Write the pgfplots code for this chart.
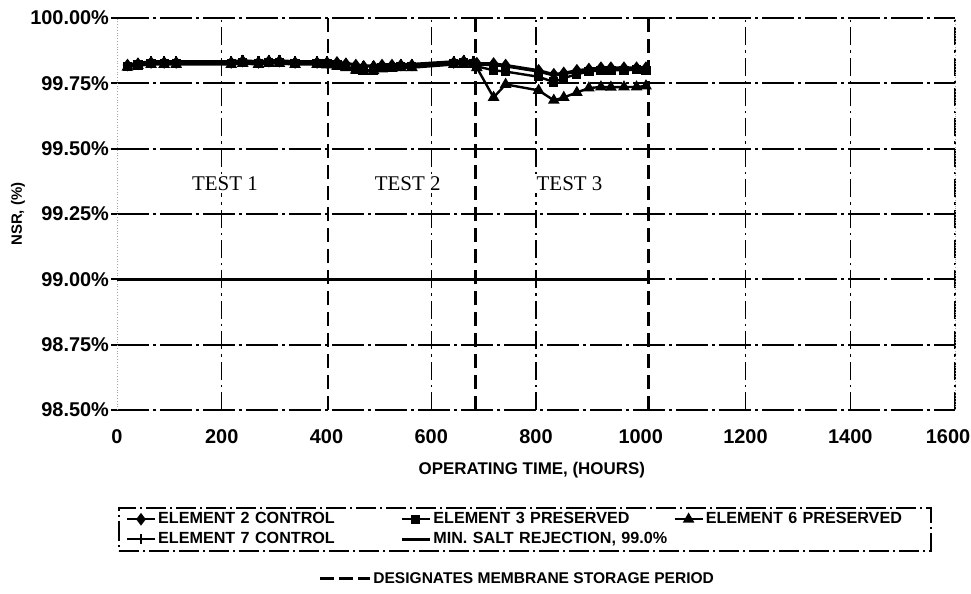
\documentclass[border=0pt]{standalone}
\usepackage{pgfplots}
\pgfplotsset{compat=1.18}
\usepackage{fontspec}
\setmainfont{Liberation Sans}
\newfontfamily\serifft{Liberation Serif}

\begin{document}
\begin{tikzpicture}
\path[use as bounding box] (-58.5bp,-92bp) rectangle (427bp,205bp);
\begin{axis}[
  at={(0,0)}, anchor=south west,
  scale only axis, width=419bp, height=196bp,
  clip=false,
  xmin=0, xmax=1600, ymin=98.5, ymax=100,
  xtick={200,600,800,1200,1400,1600},
  xticklabels={200,600,800,1200,1400,\hspace*{-7bp}1600},
  extra x ticks={0,400,1000},
  extra x tick labels={0,400,1000},
  extra x tick style={grid=none},
  ytick={98.5,98.75,99,99.25,99.5,99.75,100},
  yticklabels={98.50\%,98.75\%,99.00\%,99.25\%,99.50\%,99.75\%,100.00\%},
  xtick style={draw=none},
  ytick pos=left, tick align=outside, major tick length=3bp,
  ytick style={black, line width=0.9bp},
  xmajorgrids, ymajorgrids,
  x grid style={black, line width=0.7bp, dash pattern=on 9bp off 2.5bp on 1.2bp off 2.5bp},
  y grid style={black, line width=0.9bp, dash pattern=on 16bp off 2bp on 1.5bp off 2bp},
  separate axis lines,
  x axis line style={draw=none},
  y axis line style={densely dotted, gray!70},
  tick label style={font=\fontsize{10}{11}\selectfont\bfseries},
  yticklabel style={xshift=2.5bp},
  xticklabel style={yshift=-3.5bp},
  xlabel={OPERATING TIME, (HOURS)},
  xlabel style={at={(axis description cs:0.495,-0.153)}, anchor=center, font=\fontsize{8.5}{10}\selectfont\bfseries},
  ylabel={NSR, (\%)},
  ylabel style={at={(axis description cs:-0.118,0.5)}, anchor=center, rotate=0, font=\fontsize{7.5}{9}\selectfont\bfseries},
  legend style={at={(axis description cs:0.0012,-0.2474)}, anchor=north west,
    draw=black, line width=0.8bp, dash pattern=on 10bp off 2bp on 1bp off 2bp,
    inner xsep=3.5bp, inner ysep=0.75bp,
    font=\fontsize{8.1}{9}\selectfont\bfseries,
    nodes={inner xsep=1bp, inner ysep=1.25bp, text height=6bp, text depth=1.5bp, anchor=west, align=left},
    column sep=0pt, row sep=0pt,
    /tikz/column 2/.style={text width=120bp},
    /tikz/column 4/.style={text width=119bp},
    /tikz/column 6/.style={text width=108bp}},
  legend columns=3,
  legend cell align=left,
  legend image code/.code={\draw[mark repeat=2,mark phase=2] plot coordinates {(0bp,0bp)(7bp,0bp)(14bp,0bp)};},
]
% storage periods
\addplot[forget plot, black, line width=1.4bp, dash pattern=on 7bp off 3.5bp] coordinates {(403,98.5)(403,100)};
\addplot[forget plot, black, line width=1.4bp, dash pattern=on 7bp off 3.5bp] coordinates {(685,98.5)(685,100)};
\addplot[forget plot, black, line width=1.4bp, dash pattern=on 7bp off 3.5bp] coordinates {(1015,98.5)(1015,100)};

% Element 2 control
\addplot[solid, black, line width=1.2bp, mark=diamond*, mark size=2.2bp, mark options={solid}] coordinates {
(20,99.820)(40,99.825)(65,99.830)(90,99.830)(113,99.830)(218,99.830)(240,99.835)(270,99.830)(290,99.835)(310,99.835)(340,99.830)(382,99.830)
(401,99.830)(420,99.830)(437,99.825)(456,99.820)(471,99.815)(490,99.815)(506,99.820)(525,99.820)(542,99.820)(563,99.820)(643,99.830)(662,99.835)(681,99.830)
(687,99.827)(719,99.826)(742,99.820)(805,99.800)(834,99.785)(853,99.790)(878,99.800)(901,99.805)(924,99.810)(943,99.810)(968,99.810)(992,99.810)(1010,99.810)};
\addlegendentry{ELEMENT 2 CONTROL}

% Element 3 preserved
\addplot[solid, black, line width=1.2bp, mark=square*, mark size=1.7bp, mark options={solid}] coordinates {
(20,99.815)(40,99.820)(65,99.825)(90,99.825)(113,99.825)(218,99.825)(240,99.830)(270,99.825)(290,99.830)(310,99.830)(340,99.825)(382,99.825)
(401,99.825)(420,99.820)(437,99.815)(456,99.805)(471,99.800)(490,99.800)(506,99.810)(525,99.812)(542,99.815)(563,99.815)(643,99.825)(662,99.828)(681,99.825)
(687,99.815)(719,99.800)(742,99.795)(805,99.775)(834,99.755)(853,99.770)(878,99.785)(901,99.795)(924,99.800)(943,99.800)(968,99.800)(992,99.802)(1010,99.800)};
\addlegendentry{ELEMENT 3 PRESERVED}

% Element 6 preserved
\addplot[solid, black, line width=1.2bp, mark=triangle*, mark size=2.2bp, mark options={solid}] coordinates {
(20,99.812)(40,99.818)(65,99.822)(90,99.822)(113,99.822)(218,99.822)(240,99.826)(270,99.822)(290,99.826)(310,99.826)(340,99.822)(382,99.822)
(401,99.820)(420,99.815)(437,99.810)(456,99.800)(471,99.795)(490,99.798)(506,99.805)(525,99.808)(542,99.810)(563,99.810)(643,99.822)(662,99.825)(681,99.822)
(687,99.810)(719,99.696)(742,99.746)(805,99.723)(834,99.685)(853,99.696)(878,99.715)(901,99.732)(924,99.736)(943,99.735)(968,99.736)(992,99.736)(1010,99.740)};
\addlegendentry{ELEMENT 6 PRESERVED}

% Element 7 control
\addplot[solid, black, line width=1.2bp, mark=|, mark size=2.5bp, mark options={solid, line width=1.2bp}] coordinates {
(20,99.822)(40,99.828)(65,99.834)(90,99.834)(113,99.834)(218,99.834)(240,99.838)(270,99.834)(290,99.838)(310,99.838)(340,99.834)(382,99.834)
(401,99.834)(420,99.832)(437,99.828)(456,99.822)(471,99.818)(490,99.818)(506,99.822)(525,99.822)(542,99.824)(563,99.824)(643,99.834)(662,99.838)(681,99.834)
(687,99.822)(719,99.820)(742,99.815)(805,99.795)(834,99.780)(853,99.785)(878,99.795)(901,99.800)(924,99.806)(943,99.806)(968,99.806)(992,99.806)(1010,99.806)};
\addlegendentry{ELEMENT 7 CONTROL}

% Minimum salt rejection
\addplot[solid, black, line width=1.6bp] coordinates {(0,99.0)(1015,99.0)};
\addlegendentry{MIN. SALT REJECTION, 99.0\%}

\node[fill=white, inner sep=1bp, font=\serifft\fontsize{10.5}{12}\selectfont] at (axis cs:206,99.365) {TEST 1};
\node[fill=white, inner sep=1bp, font=\serifft\fontsize{10.5}{12}\selectfont] at (axis cs:555,99.365) {TEST 2};
\node[fill=white, inner sep=1bp, font=\serifft\fontsize{10.5}{12}\selectfont] at (axis cs:864,99.365) {TEST 3};

\draw[black, line width=1.5bp, dash pattern=on 7bp off 2.5bp] (axis description cs:0.2422,-0.4286) -- (axis description cs:0.3019,-0.4286);
\node[anchor=west, inner sep=0pt, font=\fontsize{7.8}{9}\selectfont\bfseries] at (axis description cs:0.3055,-0.4286) {DESIGNATES MEMBRANE STORAGE PERIOD};
\end{axis}
\end{tikzpicture}
\end{document}
